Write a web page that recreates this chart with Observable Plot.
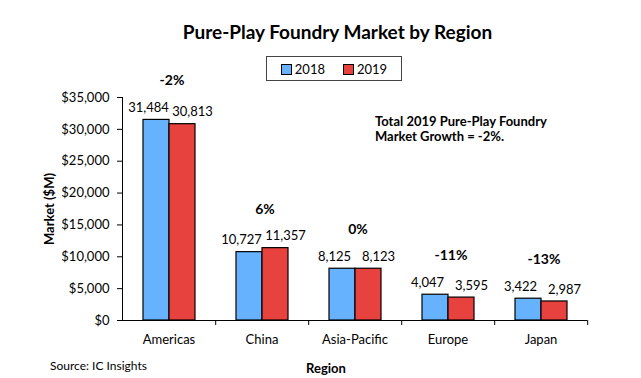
<!DOCTYPE html>
<html><head><meta charset="utf-8">
<script src="https://cdn.jsdelivr.net/npm/d3@7"></script>
<script src="https://cdn.jsdelivr.net/npm/@observablehq/plot@0.6"></script>
<style>
body{margin:0;background:#fff;font-family:Lato,sans-serif;}
#wrap{position:relative;width:641px;height:378px;overflow:hidden;background:#fff;}
#title{position:absolute;left:17px;width:641px;top:20px;text-align:center;font-weight:bold;font-size:19px;color:#000;}
#chart{position:absolute;left:0;top:52px;}
#legend{position:absolute;left:266px;top:56px;width:134px;height:23px;border:1px solid #444;background:#fff;display:flex;align-items:center;justify-content:center;gap:18px;font-size:13px;}
#legend span.sw{display:inline-block;width:9px;height:9px;border:1px solid #000;margin-right:3px;vertical-align:-1px;}
#note{position:absolute;left:375px;top:114px;font-weight:bold;font-size:13px;line-height:14.5px;}
#source{position:absolute;left:50px;top:358px;font-size:12px;}
[aria-label="y-axis label"] text{font-weight:bold;}
</style>
</head><body>
<div id="wrap">
  <div id="chart"></div>
  <div id="title">Pure-Play Foundry Market by Region</div>
  <div id="legend"></div>
  <div id="note">Total 2019 Pure-Play Foundry<br>Market Growth = -2%.</div>
  <div id="source">Source: IC Insights</div>
</div>
<script>
const regions = ["Americas","China","Asia-Pacific","Europe","Japan"];
const years = ["2018","2019"];
const values2018 = [31484,10727,8125,4047,3422];
const values2019 = [30813,11357,8123,3595,2987];
const growth = ["-2%","6%","0%","-11%","-13%"];
const yTicks = [0,5000,10000,15000,20000,25000,30000,35000];
const xTitle = "Region";
const colors = ["#66B2FF","#E8423F"];

const data = regions.flatMap((r,i)=>[
  {region:r, year:"2018", value:values2018[i]},
  {region:r, year:"2019", value:values2019[i]}
]);
const growthData = regions.map((r,i)=>({region:r, top:Math.max(values2018[i],values2019[i]), label:growth[i]}));
const fmt = d3.format(",");

const chart = Plot.plot({
  width:641, height:326,
  marginTop:45, marginBottom:58, marginLeft:121, marginRight:53,
  style:{fontFamily:"Lato", fontSize:"13px", background:"transparent", overflow:"visible", color:"#000"},
  fx:{domain:regions, padding:0},
  x:{domain:years, paddingInner:0, paddingOuter:0.73, axis:null},
  y:{domain:[0,35000], ticks:yTicks, tickFormat:d=>"$"+fmt(d), tickSize:5, tickPadding:8,
     label:"Market ($M)", labelAnchor:"center", labelOffset:78, labelArrow:"none", line:true},
  color:{domain:years, range:colors},
  marks:[
    Plot.barY(data,{fx:"region", x:"year", y:"value", fill:"year", stroke:"black", strokeWidth:1.2}),
    Plot.ruleY([0],{stroke:"black"}),
    Plot.axisFx({anchor:"bottom", tickSize:0, tickPadding:14, label:null, fontSize:13}),
    Plot.axisFx({anchor:"bottom", tickSize:5, tickFormat:()=>"", label:null, dx:46.7}),
    Plot.text([xTitle],{fx:()=>regions[2], frameAnchor:"bottom", lineAnchor:"middle", dy:48, dx:-29, fontWeight:"bold", fontSize:13}),
    Plot.text(data.filter(d=>d.year==="2018"),{fx:"region", x:"year", y:"value", text:d=>fmt(d.value), dy:-12, dx:-8, fontSize:13}),
    Plot.text(data.filter(d=>d.year==="2019"),{fx:"region", x:"year", y:"value", text:d=>fmt(d.value), dy:-12, dx:10, fontSize:13}),
    Plot.text(growthData,{fx:"region", y:"top", text:"label", dy:-39, dx:3, fontWeight:"bold", fontSize:14})
  ]
});
document.getElementById("chart").appendChild(chart);

const legend = document.getElementById("legend");
years.forEach((y,i)=>{
  const item = document.createElement("div");
  item.innerHTML = `<span class="sw" style="background:${colors[i]}"></span>${y}`;
  legend.appendChild(item);
});
</script>
</body></html>
